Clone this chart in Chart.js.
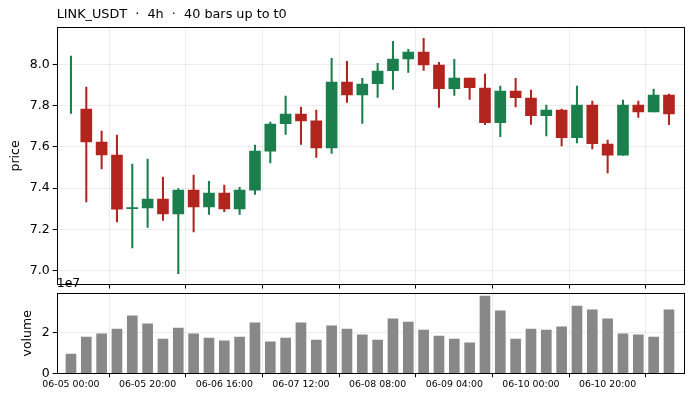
<!DOCTYPE html>
<html>
<head>
<meta charset="utf-8">
<script src="https://cdn.jsdelivr.net/npm/chart.js@4.4.1/dist/chart.umd.min.js"></script>
<style>
  html, body { margin: 0; padding: 0; background: #fff; }
  #wrap { position: relative; width: 692px; height: 400px; }
  #wrap canvas { position: absolute; left: 0; }
</style>
</head>
<body>
<div id="wrap">
  <canvas id="price" width="692" height="295" style="top:0;width:692px;height:295px"></canvas>
  <canvas id="vol" width="692" height="130" style="top:270px;width:692px;height:130px"></canvas>
</div>
<script>
// 4h bars, index 0 = 06-05 00:00
const opens  = [null, 7.783, 7.623, 7.560, 7.300, 7.304, 7.346, 7.275, 7.390, 7.309,
                7.375, 7.299, 7.390, 7.579, 7.712, 7.759, 7.726, 7.595, 7.914, 7.852,
                7.906, 7.969, 8.027, 8.060, 7.997, 7.882, 7.933, 7.885, 7.717, 7.870,
                7.836, 7.751, 7.778, 7.644, 7.802, 7.613, 7.560, 7.802, 7.770, 7.851];
const highs  = [8.040, 7.890, 7.676, 7.657, 7.516, 7.540, 7.453, 7.398, 7.463, 7.433,
                7.414, 7.403, 7.608, 7.720, 7.846, 7.793, 7.778, 8.029, 8.015, 7.932,
                8.005, 8.112, 8.073, 8.126, 8.010, 8.024, 7.933, 7.953, 7.895, 7.932,
                7.875, 7.802, 7.783, 7.895, 7.822, 7.633, 7.827, 7.822, 7.880, 7.856];
const lows   = [7.762, 7.333, 7.493, 7.236, 7.110, 7.209, 7.243, 6.985, 7.187, 7.272,
                7.285, 7.272, 7.369, 7.522, 7.660, 7.612, 7.549, 7.568, 7.816, 7.714,
                7.840, 7.879, 7.961, 7.971, 7.791, 7.850, 7.830, 7.707, 7.649, 7.794,
                7.709, 7.653, 7.605, 7.619, 7.590, 7.474, 7.560, 7.743, 7.770, 7.707];
const closes = [null, 7.624, 7.561, 7.298, 7.302, 7.346, 7.275, 7.390, 7.309, 7.375,
                7.299, 7.390, 7.579, 7.710, 7.759, 7.726, 7.595, 7.914, 7.852, 7.904,
                7.967, 8.026, 8.060, 7.998, 7.882, 7.933, 7.887, 7.717, 7.870, 7.838,
                7.751, 7.778, 7.644, 7.802, 7.615, 7.560, 7.802, 7.770, 7.851, 7.760];
const volumes = [0.94e7, 1.77e7, 1.92e7, 2.16e7, 2.80e7, 2.41e7, 1.67e7, 2.21e7, 1.92e7, 1.72e7,
                 1.58e7, 1.77e7, 2.46e7, 1.53e7, 1.72e7, 2.46e7, 1.62e7, 2.31e7, 2.16e7, 1.87e7,
                 1.62e7, 2.65e7, 2.50e7, 2.11e7, 1.82e7, 1.67e7, 1.48e7, 3.77e7, 3.04e7, 1.67e7,
                 2.16e7, 2.11e7, 2.26e7, 3.28e7, 3.09e7, 2.65e7, 1.92e7, 1.87e7, 1.77e7, 3.09e7];

const xTickPos    = [0, 5, 10, 15, 20, 25, 30, 35];
const xTickLabels = ['06-05 00:00', '06-05 20:00', '06-06 16:00', '06-07 12:00',
                     '06-08 08:00', '06-09 04:00', '06-10 00:00', '06-10 20:00'];
const priceTicks  = [7.0, 7.2, 7.4, 7.6, 7.8, 8.0];
const volTicks    = [0, 2e7];
const titleText   = 'LINK_USDT  \u00b7  4h  \u00b7  40 bars up to t0';

const UP = '#1b7f4d', DOWN = '#b2251f', GRID = 'rgba(0,0,0,0.07)';
const FONT = 'DejaVu Sans';
const X_MIN = -0.93, X_MAX = 39.98;

// colour of each candle: green if close >= open (bar 0 has only a wick, green)
const candleColor = opens.map((o, i) => (o == null || closes[i] >= o) ? UP : DOWN);

// black box round each panel, plus one text line (title / offset label)
const frame = {
  id: 'frame',
  afterDraw(chart, args, opts) {
    const a = chart.chartArea, c = chart.ctx;
    c.save();
    c.strokeStyle = '#000';
    c.lineWidth = 1;
    c.strokeRect(Math.round(a.left) + 0.5, Math.round(a.top) + 0.5,
                 Math.round(a.right - a.left), Math.round(a.bottom - a.top));
    if (opts.text) {
      c.fillStyle = '#000';
      c.font = opts.size + 'px ' + FONT;
      c.textBaseline = 'middle';
      c.textAlign = 'left';
      c.fillText(opts.text, a.left, opts.y);
    }
    c.restore();
  }
};

function xScale(showLabels, h) {
  return {
    type: 'linear', min: X_MIN, max: X_MAX, offset: false,
    border: { display: false },
    grid: { color: GRID, tickColor: '#000', tickLength: 4, drawTicks: true },
    afterBuildTicks: s => { s.ticks = xTickPos.map(v => ({ value: v })); },
    afterFit: s => { s.height = h; },
    ticks: {
      display: showLabels, autoSkip: false, maxRotation: 0, padding: 2,
      color: '#000', font: { family: FONT, size: 9.4 },
      callback: (v) => xTickLabels[xTickPos.indexOf(v)]
    }
  };
}

new Chart(document.getElementById('price'), {
  type: 'bar',
  data: {
    datasets: [
      {
        label: 'wick',
        data: highs.map((h, i) => ({ x: i, y: [lows[i], h] })),
        backgroundColor: candleColor,
        barThickness: 1.4,
        grouped: false,
        order: 2
      },
      {
        label: 'body',
        data: opens.map((o, i) => ({ x: i, y: o == null ? null : [o, closes[i]] })),
        backgroundColor: candleColor,
        barThickness: 11,
        minBarLength: 1,
        grouped: false,
        order: 1
      }
    ]
  },
  options: {
    responsive: false,
    animation: false,
    layout: { padding: { top: 27.3, right: 8, left: 0, bottom: 0 } },
    plugins: {
      legend: { display: false },
      tooltip: { enabled: false },
      frame: { text: titleText, size: 12.8, y: 14.5 }
    },
    scales: {
      x: xScale(false, 5.7),
      y: {
        min: 6.932, max: 8.18,
        border: { display: false },
        grid: { color: GRID, tickColor: '#000', tickLength: 4 },
        afterBuildTicks: s => { s.ticks = priceTicks.map(v => ({ value: v })); },
        afterFit: s => { s.width = 56.7; },
        ticks: {
          padding: 3, color: '#000', font: { family: FONT, size: 12.5 },
          callback: v => v.toFixed(1)
        },
        title: {
          display: true, text: 'price', color: '#000',
          font: { family: FONT, size: 12.5 }, padding: { top: 8, bottom: 0 }
        }
      }
    }
  },
  plugins: [frame]
});

new Chart(document.getElementById('vol'), {
  type: 'bar',
  data: {
    datasets: [{
      label: 'volume',
      data: volumes.map((v, i) => ({ x: i, y: v })),
      backgroundColor: '#888888',
      barThickness: 10
    }]
  },
  options: {
    responsive: false,
    animation: false,
    layout: { padding: { top: 23.3, right: 8, left: 0, bottom: 0 } },
    plugins: {
      legend: { display: false },
      tooltip: { enabled: false },
      frame: { text: '1e7', size: 12.5, y: 14 }
    },
    scales: {
      x: xScale(true, 26.7),
      y: {
        min: 0, max: 3.9e7,
        border: { display: false },
        grid: { color: GRID, tickColor: '#000', tickLength: 4 },
        afterBuildTicks: s => { s.ticks = volTicks.map(v => ({ value: v })); },
        afterFit: s => { s.width = 56.7; },
        ticks: {
          padding: 3, color: '#000', font: { family: FONT, size: 12.5 },
          callback: v => String(v / 1e7)
        },
        title: {
          display: true, text: 'volume', color: '#000',
          font: { family: FONT, size: 12.5 }, padding: { top: 20, bottom: 0 }
        }
      }
    }
  },
  plugins: [frame]
});
</script>
</body>
</html>
